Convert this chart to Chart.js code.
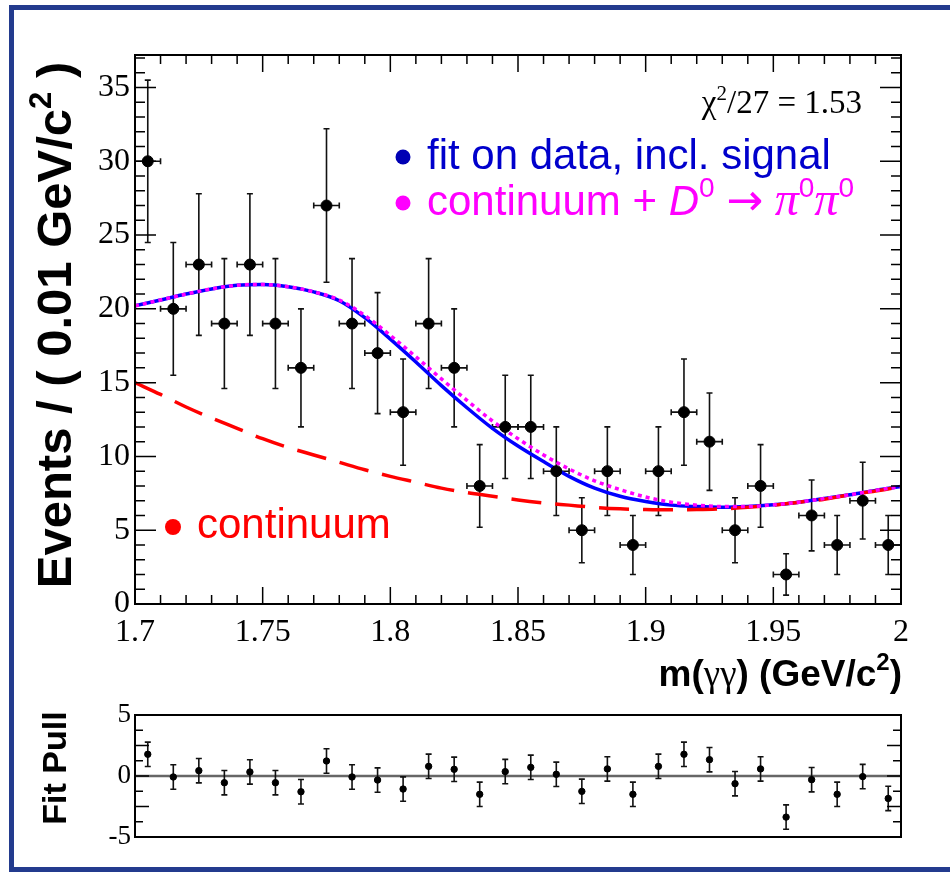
<!DOCTYPE html>
<html lang="en">
<head>
<meta charset="UTF-8">
<title>m(gamma gamma) fit</title>
<script src="https://cdn.jsdelivr.net/npm/chart.js@4"></script>
<style>
  html, body { margin:0; padding:0; background:#fff; overflow:hidden; width:950px; height:873px; }
  #frame { position:absolute; left:9px; top:5px; width:960px; height:857px; border:5px solid #233b8e; border-right:none; }
  #main { position:absolute; left:0; top:0; }
  #pull { position:absolute; left:0; top:690px; }
</style>
</head>
<body>
<div id="frame"></div>
<canvas id="main" width="950" height="700"></canvas>
<canvas id="pull" width="950" height="183"></canvas>
<script>
// ---- data ----
const binCenters = [1.705, 1.715, 1.725, 1.735, 1.745, 1.755, 1.765, 1.775, 1.785, 1.795,
                    1.805, 1.815, 1.825, 1.835, 1.845, 1.855, 1.865, 1.875, 1.885, 1.895,
                    1.905, 1.915, 1.925, 1.935, 1.945, 1.955, 1.965, 1.975, 1.985, 1.995];
const counts = [30, 20, 23, 19, 23, 19, 16, 27, 19, 17,
                13, 19, 16, 8, 12, 12, 9, 5, 9, 4,
                9, 13, 11, 5, 8, 2, 6, 4, 7, 4];
const countErrors = [5.5, 4.5, 4.8, 4.4, 4.8, 4.4, 4.0, 5.2, 4.4, 4.1,
                     3.6, 4.4, 4.0, 2.8, 3.5, 3.5, 3.0, 2.2, 3.0, 2.0,
                     3.0, 3.6, 3.3, 2.2, 2.8, 1.4, 2.4, 2.0, 2.6, 2.0];
const binHalfWidth = 0.005;

const curveX = [1.70, 1.71, 1.72, 1.73, 1.74, 1.75, 1.76, 1.77, 1.78, 1.79, 1.80,
                1.81, 1.82, 1.83, 1.84, 1.85, 1.86, 1.87, 1.88, 1.89, 1.90,
                1.91, 1.92, 1.93, 1.94, 1.95, 1.96, 1.97, 1.98, 1.99, 2.00];
const fitTotal = [20.2, 20.6, 21.0, 21.35, 21.6, 21.65, 21.5, 21.15, 20.55, 19.4, 17.95,
                  16.4, 14.8, 13.3, 11.9, 10.7, 9.65, 8.65, 7.85, 7.3, 6.95,
                  6.7, 6.6, 6.55, 6.6, 6.72, 6.9, 7.15, 7.4, 7.7, 7.96];
const fitContPlusD0 = [20.2, 20.6, 21.0, 21.35, 21.6, 21.65, 21.5, 21.15, 20.6, 19.55, 18.2,
                       16.75, 15.25, 13.8, 12.4, 11.2, 10.1, 9.15, 8.35, 7.75, 7.25,
                       6.9, 6.7, 6.6, 6.6, 6.72, 6.9, 7.15, 7.4, 7.7, 7.96];
const fitContinuum = [15.0, 14.2, 13.35, 12.6, 11.9, 11.2, 10.6, 10.1, 9.6, 9.1, 8.65,
                      8.25, 7.85, 7.55, 7.3, 7.05, 6.85, 6.7, 6.55, 6.45, 6.4,
                      6.38, 6.4, 6.45, 6.55, 6.7, 6.9, 7.1, 7.4, 7.65, 7.96];

const pulls = [1.78, -0.08, 0.44, -0.55, 0.33, -0.55, -1.29, 1.23, -0.08, -0.33,
               -1.07, 0.79, 0.55, -1.5, 0.36, 0.71, 0.14, -1.26, 0.58, -1.5,
               0.79, 1.78, 1.34, -0.63, 0.58, -3.37, -0.3, -1.5, -0.05, -1.84];
const pullErrors = [1, 1, 1, 1, 1, 1, 1, 1, 1, 1, 1, 1, 1, 1, 1,
                    1, 1, 1, 1, 1, 1, 1, 1, 1, 1, 1, 1, 1, 1, 1];

const xTickValues = [1.7, 1.75, 1.8, 1.85, 1.9, 1.95, 2.0];
const yTickValues = [0, 5, 10, 15, 20, 25, 30, 35];
const pullTickValues = [-5, 0, 5];

const chi2Label = '/27 = 1.53';
const legendFit = 'fit on data, incl. signal';
const legendCont = 'continuum';

const SANS = '"Liberation Sans", Arial, sans-serif';
const SERIF = '"Liberation Serif", "Times New Roman", serif';

Chart.defaults.font.family = SANS;
Chart.defaults.color = '#000';

// draw a line of text made of several pieces (for super/subscripts)
function drawRich(ctx, parts, x, y, align, color) {
  let w = 0;
  parts.forEach(p => { ctx.font = p.font; p.w = ctx.measureText(p.t).width; w += p.w; });
  let cx = align === 'right' ? x - w : (align === 'center' ? x - w / 2 : x);
  ctx.textAlign = 'left';
  ctx.textBaseline = 'alphabetic';
  ctx.fillStyle = color;
  parts.forEach(p => { ctx.font = p.font; ctx.fillText(p.t, cx, y + (p.dy || 0)); cx += p.w; });
}

function dot(ctx, x, y, r, color) {
  ctx.beginPath();
  ctx.arc(x, y, r, 0, Math.PI * 2);
  ctx.fillStyle = color;
  ctx.fill();
}

// error bars for the data points
const mainErrorBars = {
  id: 'mainErrorBars',
  beforeDatasetsDraw(chart) {
    const ctx = chart.ctx, xs = chart.scales.x, ys = chart.scales.y;
    ctx.save();
    ctx.strokeStyle = '#111';
    ctx.lineWidth = 1.6;
    binCenters.forEach((b, i) => {
      const px = xs.getPixelForValue(b);
      const py = ys.getPixelForValue(counts[i]);
      const top = ys.getPixelForValue(counts[i] + countErrors[i]);
      const bot = ys.getPixelForValue(counts[i] - countErrors[i]);
      const l = xs.getPixelForValue(b - binHalfWidth);
      const r = xs.getPixelForValue(b + binHalfWidth);
      ctx.beginPath();
      ctx.moveTo(px, top); ctx.lineTo(px, bot);
      ctx.moveTo(px - 3, top); ctx.lineTo(px + 3, top);
      ctx.moveTo(px - 3, bot); ctx.lineTo(px + 3, bot);
      ctx.moveTo(l, py); ctx.lineTo(r, py);
      ctx.moveTo(l, py - 3); ctx.lineTo(l, py + 3);
      ctx.moveTo(r, py - 3); ctx.lineTo(r, py + 3);
      ctx.stroke();
    });
    ctx.restore();
  }
};

// ROOT-like frame with inward ticks + texts
const mainFrame = {
  id: 'mainFrame',
  afterDraw(chart) {
    const ctx = chart.ctx, a = chart.chartArea, xs = chart.scales.x, ys = chart.scales.y;
    ctx.save();
    ctx.strokeStyle = '#000';
    ctx.lineWidth = 2;
    ctx.strokeRect(a.left, a.top, a.right - a.left, a.bottom - a.top);
    ctx.lineWidth = 1.5;
    ctx.beginPath();
    for (let i = 0; i <= 30; i++) {
      const px = xs.getPixelForValue(1.7 + i * 0.01);
      const len = i % 5 === 0 ? 17 : 9;
      ctx.moveTo(px, a.bottom); ctx.lineTo(px, a.bottom - len);
      ctx.moveTo(px, a.top); ctx.lineTo(px, a.top + len);
    }
    for (let v = 0; v <= 37; v++) {
      const py = ys.getPixelForValue(v);
      const len = v % 5 === 0 ? 21 : 10;
      ctx.moveTo(a.left, py); ctx.lineTo(a.left + len, py);
      ctx.moveTo(a.right, py); ctx.lineTo(a.right - len, py);
    }
    ctx.stroke();

    // chi2
    drawRich(ctx, [
      { t: 'χ', font: `33px ${SERIF}` },
      { t: '2', font: `21px ${SERIF}`, dy: -13 },
      { t: chi2Label, font: `33px ${SERIF}` }
    ], 862, 113, 'right', '#000');

    // legend
    dot(ctx, 403, 157, 7.5, '#0000b4');
    drawRich(ctx, [{ t: legendFit, font: `42px ${SANS}` }], 427, 169, 'left', '#0000cc');
    dot(ctx, 403, 203, 7.5, '#ff00ff');
    drawRich(ctx, [
      { t: 'continuum + ', font: `42px ${SANS}` },
      { t: 'D', font: `italic 42px ${SANS}` },
      { t: '0', font: `28px ${SANS}`, dy: -18 },
      { t: ' ', font: `42px ${SANS}` },
      { t: '→', font: `44px "DejaVu Sans", sans-serif` },
      { t: ' ', font: `42px ${SANS}` },
      { t: 'π', font: `italic 48px ${SERIF}` },
      { t: '0', font: `28px ${SANS}`, dy: -18 },
      { t: 'π', font: `italic 48px ${SERIF}` },
      { t: '0', font: `28px ${SANS}`, dy: -18 }
    ], 427, 215, 'left', '#ff00ff');
    dot(ctx, 173, 527, 8, '#ff0000');
    drawRich(ctx, [{ t: legendCont, font: `42px ${SANS}` }], 197, 538, 'left', '#ff0000');

    // x title
    drawRich(ctx, [
      { t: 'm(', font: `bold 37px ${SANS}` },
      { t: 'γγ', font: `37px ${SERIF}` },
      { t: ') (GeV/c', font: `bold 37px ${SANS}` },
      { t: '2', font: `bold 24px ${SANS}`, dy: -16 },
      { t: ')', font: `bold 37px ${SANS}` }
    ], 902, 686, 'right', '#000');

    // y title
    ctx.translate(71, 325);
    ctx.rotate(-Math.PI / 2);
    drawRich(ctx, [
      { t: 'Events / ( 0.01 GeV/c', font: `bold 49px ${SANS}` },
      { t: '2', font: `bold 31px ${SANS}`, dy: -20 },
      { t: ' )', font: `bold 49px ${SANS}` }
    ], 0, 0, 'center', '#000');
    ctx.restore();
  }
};

const curve = (ys) => curveX.map((x, i) => ({ x: x, y: ys[i] }));
const fixedTicks = (vals) => (s) => { s.ticks = vals.map(v => ({ value: v })); };

new Chart(document.getElementById('main'), {
  type: 'scatter',
  data: {
    datasets: [
      { label: 'data', data: binCenters.map((x, i) => ({ x: x, y: counts[i] })),
        backgroundColor: '#000', borderColor: '#000', pointRadius: 5.5, pointHoverRadius: 5.5, order: 0 },
      { label: 'continuum + D0', data: curve(fitContPlusD0), showLine: true, pointRadius: 0,
        borderColor: '#ff00ff', borderWidth: 3.5, borderDash: [4, 4], cubicInterpolationMode: 'monotone', order: 1 },
      { label: 'fit', data: curve(fitTotal), showLine: true, pointRadius: 0,
        borderColor: '#0000ff', borderWidth: 3.5, cubicInterpolationMode: 'monotone', order: 3 },
      { label: 'continuum', data: curve(fitContinuum), showLine: true, pointRadius: 0,
        borderColor: '#ff0000', borderWidth: 3.5, borderDash: [30, 14], cubicInterpolationMode: 'monotone', order: 2 }
    ]
  },
  options: {
    responsive: false,
    animation: false,
    layout: { padding: { left: 0, top: 55, right: 49, bottom: 0 } },
    plugins: { legend: { display: false }, tooltip: { enabled: false } },
    scales: {
      x: {
        type: 'linear', min: 1.7, max: 2.0,
        grid: { display: false, drawTicks: false }, border: { display: false },
        afterBuildTicks: fixedTicks(xTickValues),
        ticks: { autoSkip: false, maxRotation: 0, padding: 9,
                 font: { family: SERIF, size: 32 }, color: '#000',
                 callback: v => String(+v.toFixed(2)) },
        afterFit: s => { s.height = 96; }
      },
      y: {
        min: 0, max: 37.2,
        grid: { display: false, drawTicks: false }, border: { display: false },
        afterBuildTicks: fixedTicks(yTickValues),
        ticks: { padding: 5, font: { family: SERIF, size: 32 }, color: '#000',
                 callback: v => String(v) },
        afterFit: s => { s.width = 135; }
      }
    }
  },
  plugins: [mainErrorBars, mainFrame]
});

// ---- pull panel ----
const pullFrame = {
  id: 'pullFrame',
  beforeDatasetsDraw(chart) {
    const ctx = chart.ctx, a = chart.chartArea, xs = chart.scales.x, ys = chart.scales.y;
    ctx.save();
    ctx.strokeStyle = '#666';
    ctx.lineWidth = 2.5;
    ctx.beginPath();
    ctx.moveTo(a.left, ys.getPixelForValue(0));
    ctx.lineTo(a.right, ys.getPixelForValue(0));
    ctx.stroke();
    ctx.strokeStyle = '#111';
    ctx.lineWidth = 1.6;
    binCenters.forEach((b, i) => {
      const px = xs.getPixelForValue(b);
      const top = ys.getPixelForValue(pulls[i] + pullErrors[i]);
      const bot = ys.getPixelForValue(pulls[i] - pullErrors[i]);
      ctx.beginPath();
      ctx.moveTo(px, top); ctx.lineTo(px, bot);
      ctx.moveTo(px - 3, top); ctx.lineTo(px + 3, top);
      ctx.moveTo(px - 3, bot); ctx.lineTo(px + 3, bot);
      ctx.stroke();
    });
    ctx.restore();
  },
  afterDraw(chart) {
    const ctx = chart.ctx, a = chart.chartArea, ys = chart.scales.y;
    ctx.save();
    ctx.strokeStyle = '#000';
    ctx.lineWidth = 2;
    ctx.strokeRect(a.left, a.top, a.right - a.left, a.bottom - a.top);
    ctx.lineWidth = 1.5;
    ctx.beginPath();
    for (let k = -4; k <= 4; k++) {
      const py = ys.getPixelForValue(k * 1.25);
      const len = k % 2 === 0 ? 14 : 8;
      ctx.moveTo(a.left, py); ctx.lineTo(a.left + len, py);
      ctx.moveTo(a.right, py); ctx.lineTo(a.right - len, py);
    }
    ctx.stroke();
    ctx.translate(66, 78);
    ctx.rotate(-Math.PI / 2);
    drawRich(ctx, [{ t: 'Fit Pull', font: `bold 34px ${SANS}` }], 0, 0, 'center', '#000');
    ctx.restore();
  }
};

new Chart(document.getElementById('pull'), {
  type: 'scatter',
  data: {
    datasets: [
      { label: 'pull', data: binCenters.map((x, i) => ({ x: x, y: pulls[i] })),
        backgroundColor: '#000', borderColor: '#000', pointRadius: 3.2, pointHoverRadius: 3.2 }
    ]
  },
  options: {
    responsive: false,
    animation: false,
    layout: { padding: { left: 0, top: 25, right: 49, bottom: 36 } },
    plugins: { legend: { display: false }, tooltip: { enabled: false } },
    scales: {
      x: { type: 'linear', min: 1.7, max: 2.0, display: false },
      y: {
        min: -5, max: 5,
        grid: { display: false, drawTicks: false }, border: { display: false },
        afterBuildTicks: fixedTicks(pullTickValues),
        ticks: { padding: 4, font: { family: SERIF, size: 27 }, color: '#000',
                 callback: v => String(v) },
        afterFit: s => { s.width = 135; }
      }
    }
  },
  plugins: [pullFrame]
});
</script>
</body>
</html>
